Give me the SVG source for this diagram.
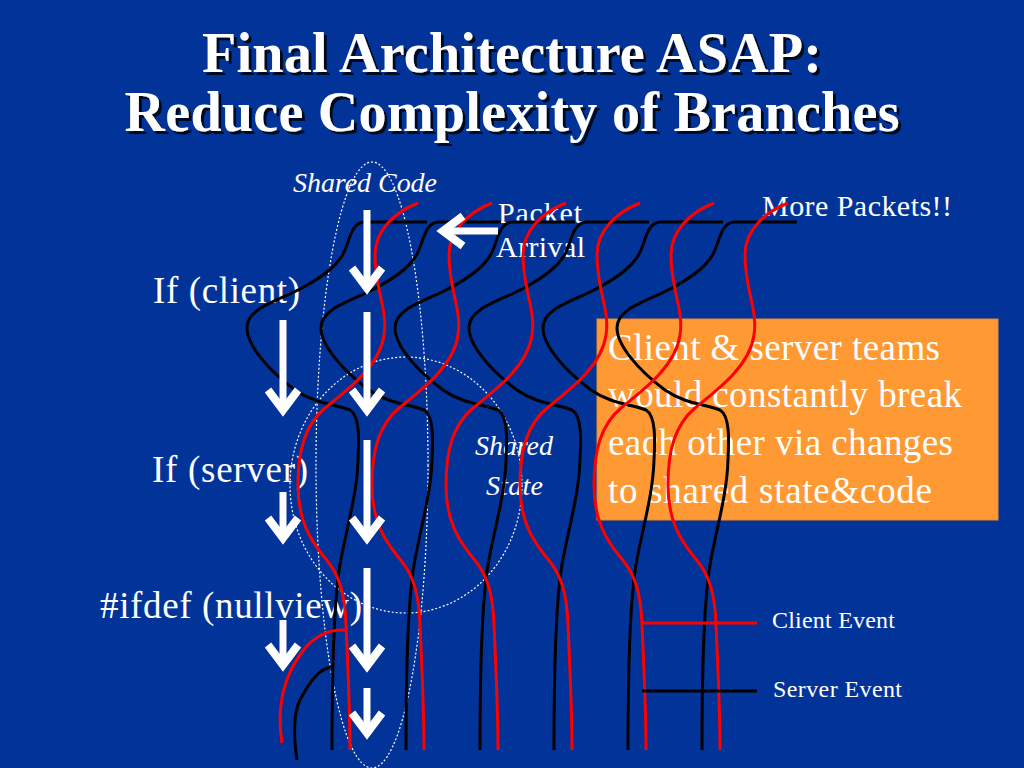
<svg xmlns="http://www.w3.org/2000/svg" xmlns:xlink="http://www.w3.org/1999/xlink" width="1024" height="768" viewBox="0 0 1024 768">
<style>
.bg{fill:#023399}
.title{font-family:"Liberation Serif","Times New Roman",serif;font-weight:bold;font-size:56px;fill:#ffffff;text-anchor:middle}
.lbl{font-family:"Liberation Serif","Times New Roman",serif;fill:#ffffff}
.it{font-style:italic}
.red{fill:none;stroke:#ff0000;stroke-width:3;stroke-linecap:butt}
.blk{fill:none;stroke:#000000;stroke-width:3;stroke-linecap:butt}
.dot{fill:none;stroke:#ffffff;stroke-width:1.2;stroke-dasharray:2 2}
.shaft{stroke:#ffffff;stroke-width:7}
.head{fill:none;stroke:#ffffff;stroke-width:8;stroke-linejoin:miter;stroke-miterlimit:10}
.box{fill:#ff9933;stroke:#e88a30;stroke-width:1}
</style>
<defs>
<filter id="sh" x="-5%" y="-20%" width="110%" height="150%">
<feFlood flood-color="#000000" flood-opacity="0.8"/>
<feComposite in2="SourceAlpha" operator="in"/>
<feOffset dx="3" dy="3" result="s"/>
<feMerge><feMergeNode in="s"/><feMergeNode in="SourceGraphic"/></feMerge>
</filter>
<path id="redC" d="M418,203 C395,212 375,230 375,255 C375,290 388,310 384,335 C380,365 350,388 325,408 C305,425 298,450 298,485 C298,520 310,540 325,558 C340,575 345,595 346,625 C348,670 350,710 350,750"/>
<path id="blkC" d="M427,222 L365,222 C352,222 350,238 345,250 C338,268 315,282 290,294 C265,305 247,312 247,328 C247,345 268,370 295,390 C315,404 335,404 350,410 C360,416 359,440 358,460 C357,495 346,530 340,565 C334,600 332,680 332,750"/>
<polyline id="chev" points="-15,-27 0,-7 15,-27"/>
</defs>
<rect class="bg" x="0" y="0" width="1024" height="768"/>

<g id="title" filter="url(#sh)">
<text class="title" x="512" y="72" textLength="620">Final Architecture ASAP:</text>
<text class="title" x="512" y="131" textLength="775">Reduce Complexity of Branches</text>
</g>

<g id="note">
<rect class="box" x="597" y="319" width="401" height="201"/>
<text class="lbl" font-size="37" x="608" y="360" textLength="332">Client &amp; server teams</text>
<text class="lbl" font-size="37" x="608" y="407" textLength="354">would constantly break</text>
<text class="lbl" font-size="37" x="608" y="455" textLength="345">each other via changes</text>
<text class="lbl" font-size="37" x="608" y="503" textLength="324">to shared state&amp;code</text>
</g>

<g id="labels">
<text class="lbl" font-size="37" x="153" y="303" textLength="147">If (client)</text>
<text class="lbl" font-size="37" x="152" y="482" textLength="156">If (server)</text>
<text class="lbl" font-size="37" x="100" y="618" textLength="262">#ifdef (nullview)</text>
<text class="lbl it" font-size="28" x="293" y="192" textLength="144">Shared Code</text>
<text class="lbl it" font-size="28" x="475" y="455" textLength="78">Shared</text>
<text class="lbl it" font-size="28" x="486" y="495" textLength="57">State</text>
<text class="lbl" font-size="30" x="498" y="223" textLength="84">Packet</text>
<text class="lbl" font-size="30" x="496" y="257" textLength="89">Arrival</text>
<text class="lbl" font-size="30" x="762" y="216" textLength="190">More Packets!!</text>
<text class="lbl" font-size="24" x="772" y="628" textLength="123">Client Event</text>
<text class="lbl" font-size="24" x="773" y="697" textLength="129">Server Event</text>
</g>

<g id="regions">
<ellipse class="dot" cx="372" cy="465" rx="56" ry="303"/>
<ellipse class="dot" cx="406" cy="485" rx="116" ry="128"/>
</g>

<g id="events">
<use xlink:href="#blkC" href="#blkC" class="blk"/>
<use xlink:href="#blkC" href="#blkC" class="blk" transform="translate(74,0)"/>
<use xlink:href="#blkC" href="#blkC" class="blk" transform="translate(148,0)"/>
<use xlink:href="#blkC" href="#blkC" class="blk" transform="translate(222,0)"/>
<use xlink:href="#blkC" href="#blkC" class="blk" transform="translate(296,0)"/>
<use xlink:href="#blkC" href="#blkC" class="blk" transform="translate(370,0)"/>
<use xlink:href="#redC" href="#redC" class="red"/>
<use xlink:href="#redC" href="#redC" class="red" transform="translate(74,0)"/>
<use xlink:href="#redC" href="#redC" class="red" transform="translate(148,0)"/>
<use xlink:href="#redC" href="#redC" class="red" transform="translate(222,0)"/>
<use xlink:href="#redC" href="#redC" class="red" transform="translate(296,0)"/>
<use xlink:href="#redC" href="#redC" class="red" transform="translate(370,0)"/>
<path class="red" d="M346,630 C330,629 315,634 302,652 C284,676 276,705 282,743"/>
<path class="blk" d="M332,667 C318,668 308,685 300,700 C293,715 294,740 297,760"/>
<line class="red" x1="642" y1="623" x2="757" y2="623"/>
<line class="blk" x1="642" y1="691" x2="757" y2="691"/>
</g>

<g id="arrows">
<g transform="translate(283,417)"><line class="shaft" x1="0" y1="-97" x2="0" y2="-8"/><use xlink:href="#chev" href="#chev" class="head"/></g>
<g transform="translate(283,545)"><line class="shaft" x1="0" y1="-53" x2="0" y2="-8"/><use xlink:href="#chev" href="#chev" class="head"/></g>
<g transform="translate(283,672)"><line class="shaft" x1="0" y1="-52" x2="0" y2="-8"/><use xlink:href="#chev" href="#chev" class="head"/></g>
<g transform="translate(367,295)"><line class="shaft" x1="0" y1="-85" x2="0" y2="-8"/><use xlink:href="#chev" href="#chev" class="head"/></g>
<g transform="translate(367,417)"><line class="shaft" x1="0" y1="-105" x2="0" y2="-8"/><use xlink:href="#chev" href="#chev" class="head"/></g>
<g transform="translate(367,545)"><line class="shaft" x1="0" y1="-105" x2="0" y2="-8"/><use xlink:href="#chev" href="#chev" class="head"/></g>
<g transform="translate(367,673)"><line class="shaft" x1="0" y1="-105" x2="0" y2="-8"/><use xlink:href="#chev" href="#chev" class="head"/></g>
<g transform="translate(367,740)"><line class="shaft" x1="0" y1="-52" x2="0" y2="-8"/><use xlink:href="#chev" href="#chev" class="head"/></g>
<g transform="translate(436,231) rotate(90)"><line class="shaft" x1="0" y1="-62" x2="0" y2="-8"/><use xlink:href="#chev" href="#chev" class="head"/></g>
</g>
</svg>
